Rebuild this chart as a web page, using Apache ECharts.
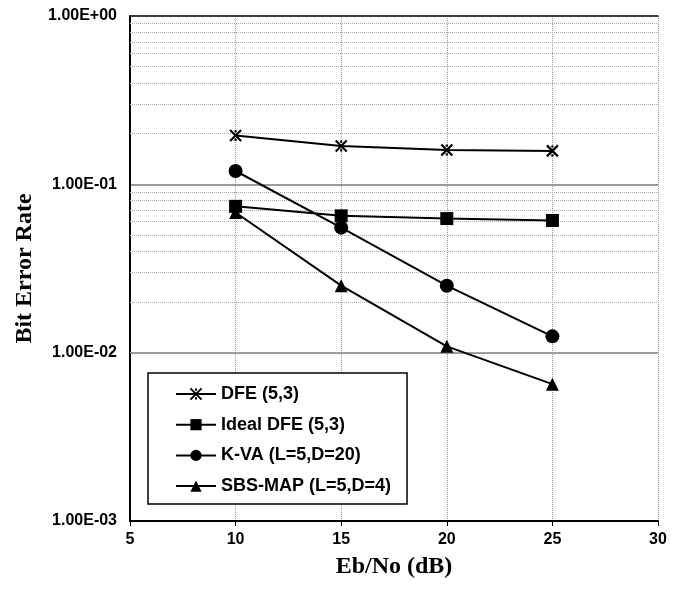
<!DOCTYPE html>
<html><head><meta charset="utf-8">
<script src="https://cdn.jsdelivr.net/npm/echarts@6/dist/echarts.min.js"></script>
<style>html,body{margin:0;padding:0;background:#fff}#c{width:680px;height:590px}</style>
</head><body><div id="c"></div>
<script>
const snr = [10, 15, 20, 25];
const dfe = [0.195, 0.169, 0.160, 0.158];
const idealDfe = [0.074, 0.065, 0.0626, 0.061];
const kva = [0.120, 0.0553, 0.0250, 0.0125];
const sbsMap = [0.068, 0.0250, 0.0109, 0.0065];
const minorLevels = [0.002,0.003,0.004,0.005,0.006,0.007,0.008,0.009,
  0.02,0.03,0.04,0.05,0.06,0.07,0.08,0.09,
  0.2,0.3,0.4,0.5,0.6,0.7,0.8,0.9];
const names = ['DFE (5,3)', 'Ideal DFE (5,3)', 'K-VA (L=5,D=20)', 'SBS-MAP (L=5,D=4)'];

const xSym = 'path://M0,0 L10,10 M10,0 L0,10 M5,0 L5,2 M5,8 L5,10';
function pairs(v){ return snr.map((x,i)=>[x,v[i]]); }
function fmt(v){
  const e = Math.round(Math.log10(v));
  const a = Math.abs(e);
  return '1.00E' + (e<0?'-':'+') + (a<10?'0':'') + a;
}
const sans = 'Liberation Sans, Arial';
const serif = 'Liberation Serif, Times New Roman';
const chart = echarts.init(document.getElementById('c'), null, {renderer:'canvas'});
const base = {type:'line', lineStyle:{color:'#000', width:2}, itemStyle:{color:'#000'}, z:5};
chart.setOption({
  animation:false,
  backgroundColor:'#fff',
  grid:{left:130, right:22, top:16, bottom:69},
  legend:{
    orient:'vertical', left:148, top:373,
    backgroundColor:'#fff', borderColor:'#000', borderWidth:1.5,
    padding:[12,16,9,27], itemGap:12.7, itemWidth:40, itemHeight:14,
    textStyle:{fontFamily:sans, fontWeight:'bold', fontSize:18, color:'#000'},
    data: names
  },
  xAxis:[{
    type:'value', min:5, max:30, interval:5,
    axisLine:{show:true, onZero:false, lineStyle:{color:'#000', width:2}},
    axisTick:{show:true, length:5, lineStyle:{color:'#000'}},
    axisLabel:{fontFamily:sans, fontWeight:'bold', fontSize:16, color:'#000', margin:11},
    splitLine:{show:true, lineStyle:{color:'#999', type:'dotted', width:1}},
    name:'Eb/No (dB)', nameLocation:'middle', nameGap:34,
    nameTextStyle:{fontFamily:serif, fontWeight:'bold', fontSize:24, color:'#000'}
  },{
    type:'value', min:5, max:30, interval:5, position:'top',
    axisLine:{show:true, onZero:false, lineStyle:{color:'#222', width:1.5}},
    axisTick:{show:false}, axisLabel:{show:false}, splitLine:{show:false}
  }],
  yAxis:{
    type:'log', logBase:10, min:0.001, max:1,
    axisLine:{show:true, onZero:false, lineStyle:{color:'#000', width:2}},
    axisTick:{show:false},
    axisLabel:{fontFamily:sans, fontWeight:'bold', fontSize:16, color:'#000', margin:13, formatter:fmt},
    splitLine:{show:true, lineStyle:{color:'#777', width:1.5}},
    name:'Bit Error Rate', nameLocation:'middle', nameGap:88, nameRotate:90,
    nameTextStyle:{fontFamily:serif, fontWeight:'bold', fontSize:24, color:'#000'}
  },
  series:[
    {type:'line', data:[], silent:true, showSymbol:false, legendHoverLink:false,
     markLine:{silent:true, symbol:'none', label:{show:false}, animation:false,
       lineStyle:{color:'#aaa', type:'dotted', width:1},
       data: minorLevels.map(v=>({yAxis:v}))}},
    Object.assign({}, base, {name:names[0], data:pairs(dfe), symbol:xSym, symbolSize:11,
      itemStyle:{color:'#000', borderColor:'#000', borderWidth:2.2}}),
    Object.assign({}, base, {name:names[1], data:pairs(idealDfe), symbol:'rect', symbolSize:13}),
    Object.assign({}, base, {name:names[2], data:pairs(kva), symbol:'circle', symbolSize:14}),
    Object.assign({}, base, {name:names[3], data:pairs(sbsMap), symbol:'triangle', symbolSize:13})
  ]
});
</script></body></html>
